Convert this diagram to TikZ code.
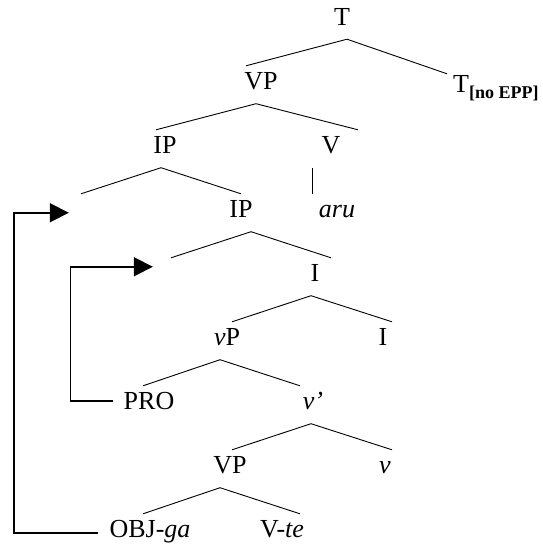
\documentclass[tikz,border=0pt]{standalone}
\usepackage{fontspec}
\setmainfont{Liberation Serif}
\usetikzlibrary{arrows.meta}

\begin{document}
\begin{tikzpicture}[
    x=1pt, y=-1pt,
    cat/.style={inner sep=0pt, inner xsep=11pt, text height=23.5pt,
                text depth=14pt, anchor=base,
                font=\rmfamily\fontsize{26}{30}\selectfont},
    branch/.style={line width=0.9pt},
    move/.style={-{Triangle[length=19pt, width=19pt]}, line width=1.8pt}
]
\useasboundingbox (0,0) rectangle (542,544);

% ---- categories, row by row ----
\node[cat] (t)    at (342,25)    {T};
\node[cat] (vp)   at (261,89.5)  {VP};
\node[cat, anchor=base west] (tn) at (442,92)
      {T\raisebox{-6pt}{\fontsize{18}{20}\selectfont\bfseries [no EPP]}};
\node[cat] (ip)   at (165,153.5) {IP};
\node[cat] (v)    at (331,153.5) {V};
\node[cat, minimum width=24pt] (e1) at (81,217.5) {};
\node[cat] (ip2)  at (241,217.5) {IP};
\node[cat] (aru)  at (337,217.5) {\textit{aru}};
\node[cat, minimum width=36pt] (e2) at (171,281.5) {};
\node[cat] (i)    at (315,281.5) {I};
\node[cat] (lvp)  at (227,345.5) {\textit{v}P};
\node[cat] (i2)   at (383,345.5) {I};
\node[cat] (pro)  at (149,409.5) {PRO};
\node[cat] (lvb)  at (313,409.5) {\textit{v’}};
\node[cat] (vp3)  at (230,473.5) {VP};
\node[cat] (lv)   at (385,473.5) {\textit{v}};
\node[cat] (obj)  at (150,537.5) {OBJ-\textit{ga}};
\node[cat] (vte)  at (282,537.5) {V-\textit{te}};

% ---- branches ----
\draw[branch] ([xshift=5pt]t.south)    -- ([xshift=-15pt]vp.north);
\draw[branch] ([xshift=5pt]t.south)    -- ([xshift=5pt, yshift=-5.5pt]tn.north west);
\draw[branch] ([xshift=-5pt]vp.south)  -- ([xshift=-9pt]ip.north);
\draw[branch] ([xshift=-5pt]vp.south)  -- ([xshift=27pt]v.north);
\draw[branch] ([xshift=-4pt]ip.south)  -- (e1.north);
\draw[branch] ([xshift=-4pt]ip.south)  -- (ip2.north);
\draw[branch] ([xshift=-19pt]v.south)  -- ([xshift=-25pt]aru.north);
\draw[branch] ([xshift=10pt]ip2.south) -- (e2.north);
\draw[branch] ([xshift=10pt]ip2.south) -- ([xshift=16pt]i.north);
\draw[branch] ([xshift=-4pt]i.south)   -- ([xshift=5pt]lvp.north);
\draw[branch] ([xshift=-4pt]i.south)   -- ([xshift=9pt]i2.north);
\draw[branch] ([xshift=-7pt]lvp.south) -- ([xshift=-6pt]pro.north);
\draw[branch] ([xshift=-7pt]lvp.south) -- ([xshift=-13pt]lvb.north);
\draw[branch] ([xshift=-2pt]lvb.south) -- ([xshift=2pt]vp3.north);
\draw[branch] ([xshift=-2pt]lvb.south) -- ([xshift=7pt]lv.north);
\draw[branch] ([xshift=-10pt]vp3.south) -- ([xshift=-7pt]obj.north);
\draw[branch] ([xshift=-10pt]vp3.south) -- ([xshift=18pt]vte.north);

% ---- movement arrows ----
\draw[move] (obj.west) -- ++(-84pt,0pt) |- (e1.west);
\draw[move] ([yshift=4pt]pro.west) -- ++(-42pt,0pt) |- ([yshift=10pt]e2.west);

\end{tikzpicture}
\end{document}
